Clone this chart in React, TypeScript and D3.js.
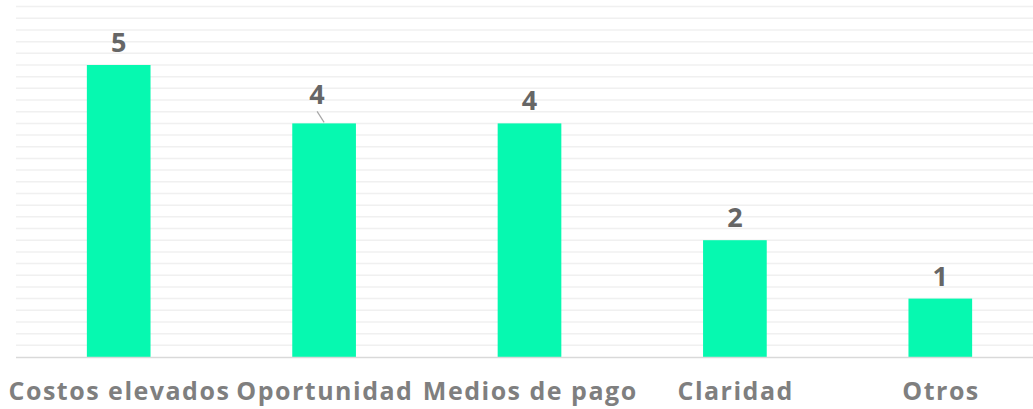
import React, { useRef, useEffect } from "react";
import * as d3 from "d3";

const categories = ["Costos elevados", "Oportunidad", "Medios de pago", "Claridad", "Otros"];
const values = [5, 4, 4, 2, 1];

// the "4" over Oportunidad was dragged aside, with a leader line to its bar
const movedLabel = { index: 1, dx: -7, dy: -6 };

const W = 1033;
const H = 409;
const font = "'Open Sans', Lato, sans-serif";

const App = () => {
  const svgRef = useRef<SVGSVGElement>(null);

  useEffect(() => {
    const svg = d3.select(svgRef.current);
    svg.selectAll("*").remove();

    const margin = { top: 6.6, left: 16, bottom: 52, right: -10 };
    const baseY = H - margin.bottom;

    const x = d3
      .scaleBand()
      .domain(categories)
      .range([margin.left, W - margin.right])
      .paddingInner(0.69)
      .paddingOuter(0.345);

    const y = d3.scaleLinear().domain([0, 6]).range([baseY, margin.top]);

    // Grid lines
    svg
      .append("g")
      .selectAll("line")
      .data(y.ticks(30).filter((t) => t > 0))
      .join("line")
      .attr("x1", margin.left)
      .attr("x2", W)
      .attr("y1", (d) => y(d))
      .attr("y2", (d) => y(d))
      .attr("stroke", "#f0f0f0")
      .attr("stroke-width", 1.5);

    // Bars
    svg
      .append("g")
      .selectAll("rect")
      .data(values)
      .join("rect")
      .attr("x", (d, i) => x(categories[i])!)
      .attr("y", (d) => y(d))
      .attr("width", x.bandwidth())
      .attr("height", (d) => baseY - y(d))
      .attr("fill", "#06f9b0");

    // Baseline
    svg
      .append("line")
      .attr("x1", margin.left)
      .attr("x2", W)
      .attr("y1", baseY + 0.5)
      .attr("y2", baseY + 0.5)
      .attr("stroke", "#d9d9d9")
      .attr("stroke-width", 1.5);

    // Value labels
    const cx = (i: number) => x(categories[i])! + x.bandwidth() / 2;
    svg
      .append("g")
      .selectAll("text")
      .data(values)
      .join("text")
      .attr("x", (d, i) => cx(i) + (i === movedLabel.index ? movedLabel.dx : 0))
      .attr("y", (d, i) => y(d) - 13 + (i === movedLabel.index ? movedLabel.dy : 0))
      .attr("text-anchor", "middle")
      .style("font-family", font)
      .style("font-weight", 700)
      .style("font-size", "27px")
      .style("fill", "#666666")
      .text((d) => d);

    const mi = movedLabel.index;
    svg
      .append("line")
      .attr("x1", cx(mi) + movedLabel.dx)
      .attr("y1", y(values[mi]) - 12)
      .attr("x2", cx(mi))
      .attr("y2", y(values[mi]) - 1)
      .attr("stroke", "#a6a6a6")
      .attr("stroke-width", 1.2);

    // Category labels
    svg
      .append("g")
      .selectAll("text")
      .data(categories)
      .join("text")
      .attr("x", (d, i) => cx(i) + 0.75)
      .attr("y", 400)
      .attr("text-anchor", "middle")
      .style("font-family", font)
      .style("font-weight", 700)
      .style("font-size", "25px")
      .style("letter-spacing", "1.5px")
      .style("fill", "#7f7f7f")
      .text((d) => d);
  }, []);

  return (
    <svg
      ref={svgRef}
      width={W}
      height={H}
      style={{ position: "absolute", left: 0, top: 0, background: "#fff" }}
    ></svg>
  );
};

export default App;
